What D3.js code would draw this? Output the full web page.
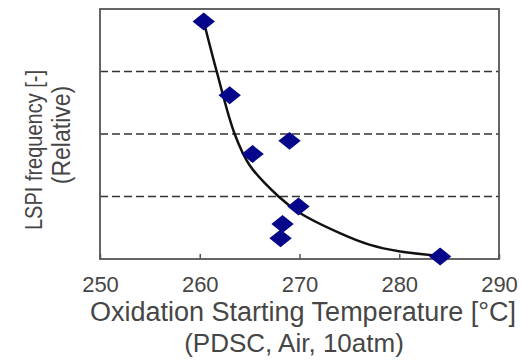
<!DOCTYPE html>
<html>
<head>
<meta charset="utf-8">
<script src="https://cdn.jsdelivr.net/npm/d3@7"></script>
<style>
  body { margin: 0; background: #fff; }
  text { font-family: "Liberation Sans", Arial, sans-serif; fill: #464646; }
</style>
</head>
<body>
<svg id="chart" width="522" height="361"></svg>
<script>
// measured points (oxidation start temp, relative LSPI frequency)
const temps = [260.4, 263.0, 265.3, 269.0, 269.9, 268.3, 268.1, 284.1];
const lspi  = [3.80, 2.62, 1.68, 1.89, 0.84, 0.56, 0.33, 0.04];

// trend line
const fitTemps = [260.4, 261.7, 263.5, 265.0, 267.9, 270.0, 274.1, 277.0, 280.1, 284.1];
const fitLspi  = [3.80, 3.00, 2.00, 1.50, 1.00, 0.74, 0.41, 0.23, 0.12, 0.05];

const xTicks = [250, 260, 270, 280, 290];
const gridVals = [1, 2, 3];

const svg = d3.select("#chart");

const x = d3.scaleLinear().domain([250, 290]).range([100, 499]);
const y = d3.scaleLinear().domain([0, 4]).range([259, 9]);

// dashed grid
svg.selectAll(".grid")
  .data(gridVals)
  .enter().append("line")
  .attr("class", "grid")
  .attr("x1", x(250)).attr("x2", x(290))
  .attr("y1", d => y(d)).attr("y2", d => y(d))
  .attr("stroke", "#333")
  .attr("stroke-width", 1.6)
  .attr("stroke-dasharray", "8,4");

// frame
svg.append("rect")
  .attr("x", x(250)).attr("y", y(4))
  .attr("width", x(290) - x(250))
  .attr("height", y(0) - y(4))
  .attr("fill", "none")
  .attr("stroke", "#555")
  .attr("stroke-width", 1.8);

// x axis: inward ticks, no domain line (frame draws it)
const xAxis = d3.axisBottom(x)
  .tickValues(xTicks)
  .tickSizeInner(-5)
  .tickSizeOuter(0)
  .tickFormat(d3.format("d"));

const gx = svg.append("g")
  .attr("transform", "translate(0," + y(0) + ")")
  .call(xAxis);
gx.select(".domain").remove();
gx.selectAll(".tick line").attr("stroke", "#555").attr("stroke-width", 1.5);
gx.selectAll(".tick text")
  .style("font-size", "22px")
  .attr("fill", "#464646")
  .attr("y", 33)
  .attr("dy", 0);

// trend curve
const line = d3.line()
  .x((d, i) => x(fitTemps[i]))
  .y(d => y(d))
  .curve(d3.curveCatmullRom.alpha(0.5));

svg.append("path")
  .datum(fitLspi)
  .attr("d", line)
  .attr("fill", "none")
  .attr("stroke", "#111")
  .attr("stroke-width", 2.5);

// diamonds
const diamond = d3.symbol().type(d3.symbolSquare).size(160);
svg.selectAll(".pt")
  .data(lspi)
  .enter().append("path")
  .attr("class", "pt")
  .attr("d", diamond)
  .attr("transform", (d, i) => "translate(" + x(temps[i]) + "," + y(d) + ") scale(1.25,1) rotate(45)")
  .attr("fill", "#06068a");

// axis titles
svg.append("text")
  .attr("x", 303).attr("y", 321)
  .attr("text-anchor", "middle")
  .style("font-size", "27px")
  .text("Oxidation Starting Temperature [\u00B0C]");

svg.append("text")
  .attr("x", 294).attr("y", 352)
  .attr("text-anchor", "middle")
  .style("font-size", "26px")
  .text("(PDSC, Air, 10atm)");

// y title, widened a bit like the source image
svg.append("text")
  .attr("transform", "translate(42,150) scale(1.2,1) rotate(-90)")
  .attr("text-anchor", "middle")
  .style("font-size", "20px")
  .text("LSPI frequency [-]");

svg.append("text")
  .attr("transform", "translate(70,135) scale(1.1,1) rotate(-90)")
  .attr("text-anchor", "middle")
  .style("font-size", "23px")
  .text("(Relative)");
</script>
</body>
</html>
